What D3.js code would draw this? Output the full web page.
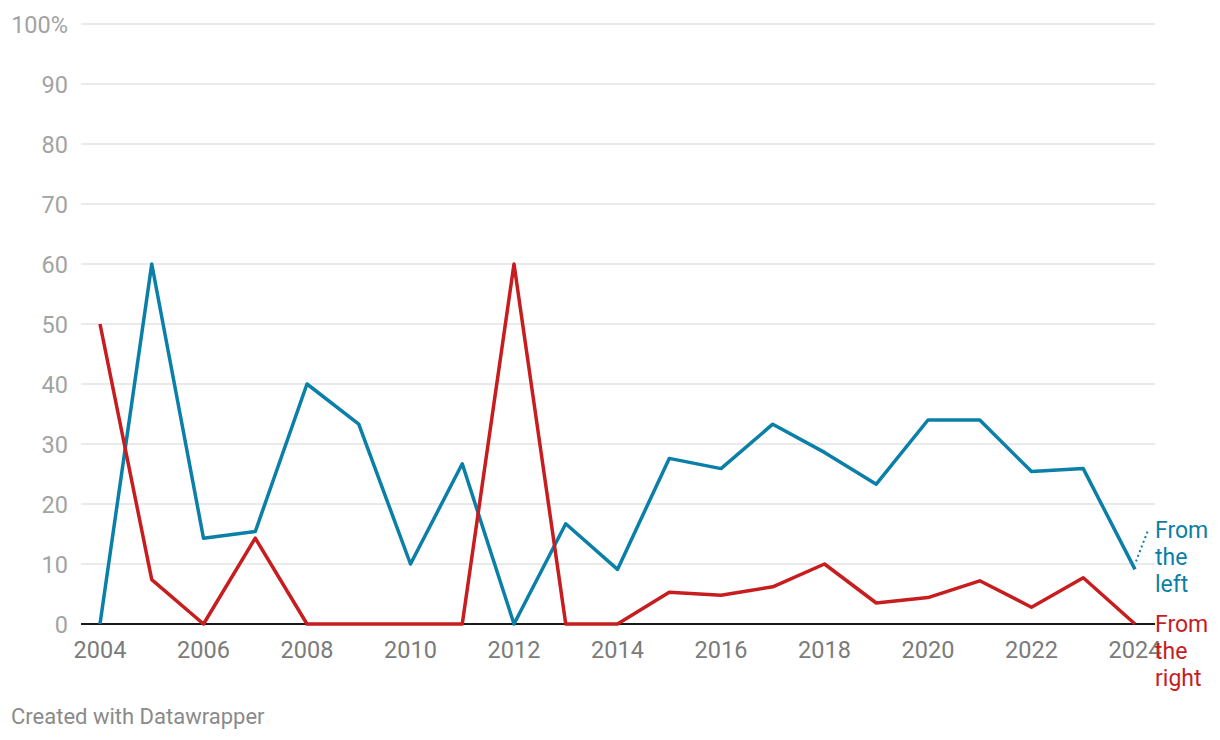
<!DOCTYPE html>
<html><head><meta charset="utf-8">
<script src="https://cdn.jsdelivr.net/npm/d3@7"></script>
<style>
html,body{margin:0;padding:0;background:#fff;}
svg{display:block;font-family:Roboto,"Noto Sans",sans-serif;}
</style></head>
<body><svg id="c" width="1220" height="740"></svg>
<script>
const years = d3.range(2004, 2025);
const fromLeft  = [0, 60, 14.3, 15.4, 40, 33.3, 10, 26.7, 0, 16.7, 9.1, 27.6, 25.9, 33.3, 28.6, 23.3, 34, 34, 25.4, 25.9, 9.1];
const fromRight = [50, 7.4, 0, 14.3, 0, 0, 0, 0, 60, 0, 0, 5.3, 4.8, 6.2, 10, 3.5, 4.4, 7.2, 2.8, 7.7, 0];
const yTicks = [0, 10, 20, 30, 40, 50, 60, 70, 80, 90, 100];
const xTicks = [2004, 2006, 2008, 2010, 2012, 2014, 2016, 2018, 2020, 2022, 2024];
const seriesNames = ["From the left", "From the right"];
const colors = ["#0a7fa7", "#c71d1f"];

const svg = d3.select("#c");
const x = d3.scaleLinear().domain([2004, 2024]).range([100, 1135]);
const y = d3.scaleLinear().domain([0, 100]).range([624, 24]);
const gridX0 = 81, gridX1 = 1155;

// gridlines + y labels
const yg = svg.append("g");
yg.selectAll("line").data(yTicks.filter(d => d > 0)).join("line")
  .attr("x1", gridX0).attr("x2", gridX1)
  .attr("y1", d => y(d)).attr("y2", d => y(d))
  .attr("stroke", "#e3e3e3").attr("stroke-width", 1.5);
yg.selectAll("text").data(yTicks).join("text")
  .attr("x", 68).attr("y", d => y(d) + 8.5)
  .attr("text-anchor", "end").attr("fill", "#a3a3a3")
  .attr("font-size", 23.5)
  .text(d => d === 100 ? "100%" : d);

// x labels
svg.append("g").selectAll("text").data(xTicks).join("text")
  .attr("x", d => x(d)).attr("y", 658)
  .attr("text-anchor", "middle").attr("fill", "#7b7b7b")
  .attr("font-size", 23.5)
  .text(d => d);

// baseline
svg.append("line").attr("x1", gridX0).attr("x2", gridX1)
  .attr("y1", y(0)).attr("y2", y(0)).attr("stroke", "#1a1a1a").attr("stroke-width", 2);

// lines
const line = d3.line().x((d, i) => x(years[i])).y(d => y(d));
[fromLeft, fromRight].forEach((s, k) => {
  svg.append("path").datum(s)
    .attr("d", line).attr("fill", "none")
    .attr("stroke", colors[k]).attr("stroke-width", 3.5)
    .attr("stroke-linejoin", "round").attr("stroke-linecap", "butt");
});

// connector for blue label
const lastL = fromLeft[fromLeft.length - 1];
svg.append("line")
  .attr("x1", x(2024) + 1).attr("y1", y(lastL) - 8)
  .attr("x2", x(2024) + 13).attr("y2", y(lastL) - 39)
  .attr("stroke", colors[0]).attr("stroke-width", 2)
  .attr("stroke-dasharray", "2,3");

// series labels
const labelLines = [["From", "the", "left"], ["From", "the", "right"]];
const labelBase = [538, 632];
labelLines.forEach((ls, k) => {
  const t = svg.append("text").attr("x", 1155).attr("y", labelBase[k])
    .attr("fill", colors[k]).attr("font-size", 23);
  ls.forEach((w, i) => t.append("tspan").attr("x", 1155).attr("dy", i === 0 ? 0 : 27).text(w));
});

// footer
svg.append("text").attr("x", 11).attr("y", 724)
  .attr("fill", "#8a8a8a").attr("font-size", 22)
  .text("Created with Datawrapper");
</script>
</body></html>
